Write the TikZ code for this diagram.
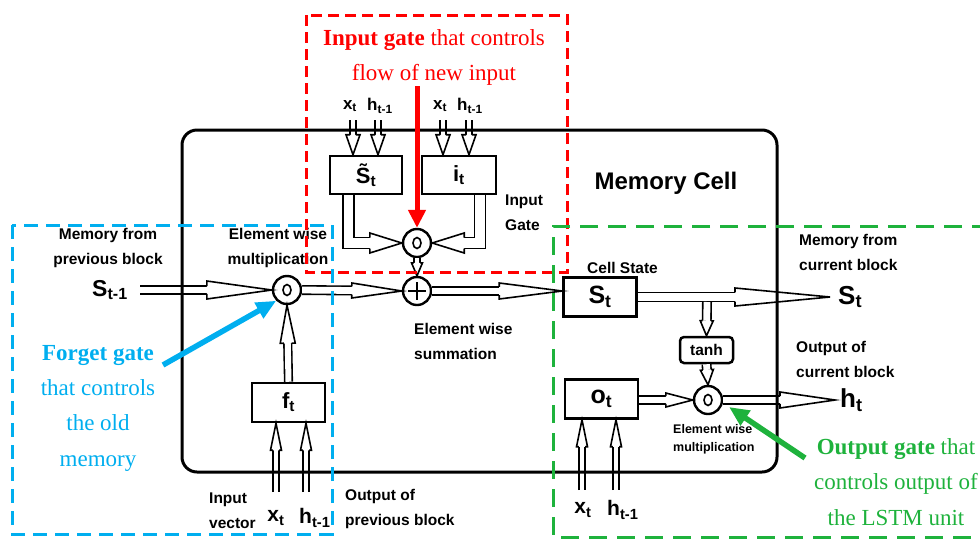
\documentclass[tikz,border=0pt]{standalone}
\usepackage{fontspec}
\setmainfont{Liberation Serif}
\newfontfamily\lab{Liberation Sans}
\usetikzlibrary{calc,arrows.meta}
\definecolor{rd}{RGB}{255,0,0}
\definecolor{bl}{RGB}{0,174,239}
\definecolor{gr}{RGB}{30,178,60}
\newcommand\alw{1.6pt}
\newcommand\mysub[1]{\textsubscript{#1}}
% head only: #1 from, #2 tip, #3 shaft half width, #4 head length, #5 head half width
\newcommand\hhead[5]{%
 \fill[white] ($(#2)!#4!(#1)!#5!90:(#2)$) -- (#2) -- ($(#2)!#4!(#1)!#5!-90:(#2)$) -- cycle;
 \draw[line width=\alw, line join=miter] ($(#2)!#4!(#1)!#3!90:(#2)$) -- ($(#2)!#4!(#1)!#5!90:(#2)$) -- (#2) -- ($(#2)!#4!(#1)!#5!-90:(#2)$) -- ($(#2)!#4!(#1)!#3!-90:(#2)$);}
\newcommand\harrow[5]{%
 \pgfmathsetlengthmacro\hgap{2*(#3)-\alw}%
 \draw[line width=\alw, double distance=\hgap] (#1) -- ($(#2)!#4!(#1)$);
 \hhead{#1}{#2}{#3}{#4}{#5}}
\begin{document}
\begin{tikzpicture}[x=1pt,y=-1pt,
  box/.style={draw, line width=2.5pt, inner sep=0pt, fill=white, font=\lab\bfseries\fontsize{22}{22}\selectfont},
  op/.style={draw, circle, line width=2.4pt, minimum size=28pt, inner sep=0pt, fill=white},
  lbl/.style={font=\lab\bfseries\fontsize{15.5}{25}\selectfont, align=left, inner sep=0pt},
  sym/.style={font=\lab\bfseries\fontsize{21}{21}\selectfont, inner sep=0pt},
  symt/.style={font=\lab\bfseries\fontsize{17}{17}\selectfont, inner sep=0pt},
  ser/.style={font=\fontsize{23}{35.3}\selectfont, align=center, inner sep=0pt},
  cdash/.style={line width=3pt}]
\useasboundingbox (0,0) rectangle (980,539);

% nodes
\node[box, minimum width=72pt, minimum height=38pt] (stil) at (366,175) {\~{S}\mysub{t}};
\node[box, minimum width=74pt, minimum height=38pt] (it) at (459,175) {i\mysub{t}};
\node[op] (cin) at (417,243) {};
\node[op] (plus) at (417,291) {};
\node[op] (cf) at (287,290) {};
\node[box, minimum width=73pt, minimum height=39pt] (ft) at (288.5,402.5) {f\mysub{t}};
\node[box, minimum width=73pt, minimum height=39pt, font=\lab\bfseries\fontsize{25}{25}\selectfont] (St) at (600,297) {S\mysub{t}};
\node[box, minimum width=53pt, minimum height=26pt, rounded corners=4pt, font=\lab\bfseries\fontsize{15.5}{15.5}\selectfont] (tanh) at (706.5,350) {tanh};
\node[box, minimum width=73pt, minimum height=39pt, font=\lab\bfseries\fontsize{25}{25}\selectfont] (ot) at (601.5,399) {o\mysub{t}};
\node[op] (co) at (708,400) {};

% symbols inside operators
\foreach \n in {cin,cf,co}{\draw[line width=1.6pt] (\n) ellipse [x radius=4pt, y radius=5.5pt];}
\draw[line width=2pt] ($(plus)+(-9,0)$) -- ($(plus)+(9,0)$) ($(plus)+(0,-9)$) -- ($(plus)+(0,9)$);

% labels
\node[sym, font=\lab\bfseries\fontsize{23}{23}\selectfont] (sprev) at (110,290) {S\mysub{t-1}};
\node[symt] (xa) at (350,106) {x\mysub{t}};
\node[symt, anchor=west] (ha) at (367,106) {h\mysub{t-1}};
\node[symt] (xb) at (440,106) {x\mysub{t}};
\node[symt, anchor=west] (hb) at (457,106) {h\mysub{t-1}};
\node[sym] (xc) at (276,518) {x\mysub{t}};
\node[sym, anchor=west] (hc) at (299,518) {h\mysub{t-1}};
\node[sym] (xd) at (583,510) {x\mysub{t}};
\node[sym, anchor=west] (hd) at (607,510) {h\mysub{t-1}};
\node[sym, anchor=west, font=\lab\bfseries\fontsize{26}{26}\selectfont] (snext) at (838,297) {S\mysub{t}};
\node[sym, anchor=west, font=\lab\bfseries\fontsize{26}{26}\selectfont] (hnext) at (840,400) {h\mysub{t}};

\node[lbl, font=\lab\bfseries\fontsize{24}{24}\selectfont] (mc) at (666,183) {Memory Cell};
\node[lbl, align=center] (l1) at (108,248) {Memory from\\previous block};
\node[lbl, align=center] (l2) at (278,248) {Element wise\\multiplication};
\node[lbl, anchor=west] (l3) at (505,213) {Input\\Gate};
\node[lbl, anchor=west] (l4) at (414,341) {Element wise\\summation};
\node[lbl, anchor=west] (l5) at (587,268) {Cell State};
\node[lbl, anchor=west] (l6) at (799,252) {Memory from\\current block};
\node[lbl, anchor=west] (l7) at (796,359) {Output of\\current block};
\node[lbl, anchor=west, font=\lab\bfseries\fontsize{12.5}{18}\selectfont] (l8) at (673,439) {Element wise\\multiplication};
\node[lbl, anchor=west] (l9) at (209,511) {Input\\vector};
\node[lbl, anchor=west] (l10) at (345,509) {Output of\\previous block};

% coordinates for free ends
\coordinate (sin) at (140,290);
\coordinate (sout) at (830,297);
\coordinate (hout) at (835,400);
\coordinate (br) at (707,302);
\coordinate (p1) at (plus -| St.west);
\coordinate (o1) at (ot.east |- co);
\coordinate (ia1) at (353,120); \coordinate (ta1) at (ia1 |- stil.north);
\coordinate (ia2) at (378,120); \coordinate (ta2) at (ia2 |- stil.north);
\coordinate (ib1) at (443,120); \coordinate (tb1) at (ib1 |- it.north);
\coordinate (ib2) at (469,120); \coordinate (tb2) at (ib2 |- it.north);
\coordinate (ic1) at (276,492); \coordinate (tc1) at (ic1 |- ft.south);
\coordinate (ic2) at (306,492); \coordinate (tc2) at (ic2 |- ft.south);
\coordinate (id1) at (582,490); \coordinate (td1) at (id1 |- ot.south);
\coordinate (id2) at (616,490); \coordinate (td2) at (id2 |- ot.south);

% hollow connectors
\harrow{sin}{cf.west}{3.8pt}{65pt}{9pt}
\harrow{cf.east}{plus.west}{4.2pt}{50pt}{7.5pt}
\harrow{plus.east}{p1}{4.2pt}{63pt}{8pt}
\harrow{St.east}{sout}{4.6pt}{95pt}{9pt}
\harrow{br}{tanh.north}{4.2pt}{15pt}{6.5pt}
\harrow{tanh.south}{co.north}{4.2pt}{15pt}{6.5pt}
\harrow{o1}{co.west}{3.8pt}{27pt}{7pt}
\harrow{co.east}{hout}{3.8pt}{55pt}{8pt}
\harrow{ft.north}{cf.south}{3.8pt}{38pt}{7.5pt}
\harrow{cin.south}{plus.north}{3.2pt}{13pt}{5.5pt}
\harrow{ia1}{ta1}{2.8pt}{20pt}{7pt}
\harrow{ia2}{ta2}{2.8pt}{20pt}{7pt}
\harrow{ib1}{tb1}{2.8pt}{20pt}{7pt}
\harrow{ib2}{tb2}{2.8pt}{20pt}{7pt}
\harrow{ic1}{tc1}{3.2pt}{27pt}{5.5pt}
\harrow{ic2}{tc2}{3.2pt}{27pt}{5.5pt}
\harrow{id1}{td1}{3.2pt}{27pt}{5.5pt}
\harrow{id2}{td2}{3.2pt}{27pt}{5.5pt}

% bent connectors into the input gate operator
\coordinate (sb) at ($(stil.south)+(-17.5,0)$);
\coordinate (sc) at (sb |- cin);
\coordinate (sh) at ($(cin.west)!32pt!(sc)$);
\pgfmathsetlengthmacro\bgap{2*5.5pt-\alw}
\draw[line width=\alw, double distance=\bgap, line join=miter] (sb) -- (sc) -- (sh);
\hhead{sc}{cin.west}{5.5pt}{32pt}{10pt}
\coordinate (ib) at ($(it.south)+(21,0)$);
\coordinate (ic) at (ib |- cin);
\coordinate (ih) at ($(cin.east)!32pt!(ic)$);
\draw[line width=\alw, double distance=\bgap, line join=miter] (ib) -- (ic) -- (ih);
\hhead{ic}{cin.east}{5.5pt}{32pt}{10pt}

% memory cell
\draw[line width=3pt, rounded corners=15pt] (182,130) rectangle (777,472);

% dashed gate regions
\draw[rd, cdash, dash pattern=on 11pt off 6pt] (306,15) rectangle (567,272);
\draw[bl, cdash, dash pattern=on 14pt off 8pt] (12,225) rectangle (332,534);
\draw[gr, cdash, dash pattern=on 18pt off 10pt] (990,226) -- (553,226) -- (553,537) -- (990,537);

% coloured annotation arrows
\coordinate (rs) at (417,86);
\draw[rd, line width=5pt, -{Triangle[length=18pt,width=17pt]}] (rs) -- (cin.north);
\coordinate (bs) at (163,365);
\draw[bl, line width=5.5pt, -{Triangle[length=20pt,width=17pt]}] (bs) -- (cf.-135);
\coordinate (gs) at (805,458);
\coordinate (gt) at (729,407);
\draw[gr, line width=5.5pt, -{Triangle[length=20pt,width=17pt]}] (gs) -- (gt);

% coloured texts
\node[ser, text=rd] (tr) at (434,57.5) {\textbf{Input gate} that controls\\flow of new input};
\node[ser, text=bl] (tb) at (98,408) {\textbf{Forget gate}\\that controls\\the old\\memory};
\node[ser, text=gr] (tg) at (896,482) {\textbf{Output gate} that\\controls output of\\the LSTM unit};
\end{tikzpicture}
\end{document}
